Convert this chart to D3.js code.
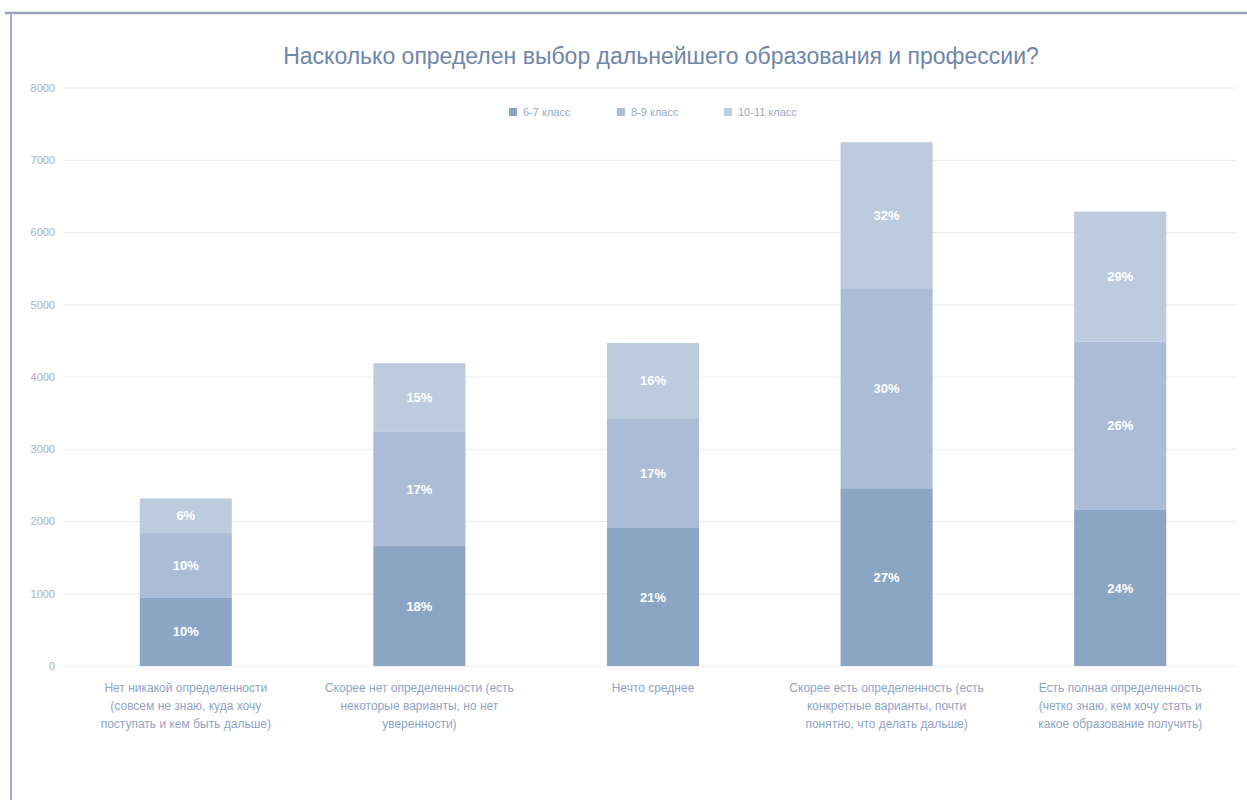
<!DOCTYPE html>
<html>
<head>
<meta charset="utf-8">
<script src="https://cdn.jsdelivr.net/npm/d3@7"></script>
<style>
  body { margin: 0; background: #fff; }
  svg { display: block; font-family: "Liberation Sans", sans-serif; }
</style>
</head>
<body>
<div id="chart"></div>
<script>
const width = 1247;
const height = 800;

const categories = [
    ["Нет никакой определенности", "(совсем не знаю, куда хочу", "поступать и кем быть дальше)"],
    ["Скорее нет определенности (есть", "некоторые варианты, но нет", "уверенности)"],
    ["Нечто среднее"],
    ["Скорее есть определенность (есть", "конкретные варианты, почти", "понятно, что делать дальше)"],
    ["Есть полная определенность", "(четко знаю, кем хочу стать  и", "какое образование получить)"]
];
const seriesNames = ["6-7 класс", "8-9 класс", "10-11 класс"];
const grade67 = [950, 1660, 1910, 2460, 2160];
const grade89 = [890, 1580, 1520, 2770, 2330];
const grade1011 = [480, 950, 1040, 2020, 1800];
const label67 = ["10%", "18%", "21%", "27%", "24%"];
const label89 = ["10%", "17%", "17%", "30%", "26%"];
const label1011 = ["6%", "15%", "16%", "32%", "29%"];
const yTicks = [0, 1000, 2000, 3000, 4000, 5000, 6000, 7000, 8000];

const colors = ["#8ba5c4", "#abbdd6", "#bccbde"];

const rows = categories.map((c, i) => ({
    key: i,
    lines: c,
    s0: grade67[i], s1: grade89[i], s2: grade1011[i],
    l0: label67[i], l1: label89[i], l2: label1011[i]
}));

const svg = d3.select("#chart").append("svg")
    .attr("width", width)
    .attr("height", height)
    .attr("viewBox", [0, 0, width, height]);

// frame
svg.append("line").attr("x1", 5).attr("x2", width).attr("y1", 13).attr("y2", 13)
    .attr("stroke", "#9ca2b5").attr("stroke-width", 2.5);
svg.append("line").attr("x1", 11).attr("x2", 11).attr("y1", 13).attr("y2", height)
    .attr("stroke", "#a6aac6").attr("stroke-width", 2);

const x = d3.scaleBand()
    .domain(rows.map(d => d.key))
    .range([69, 1237])
    .paddingInner(0.606)
    .paddingOuter(0.303);

const y = d3.scaleLinear()
    .domain([0, 8000])
    .range([666, 88]);

// grid + y labels
const grid = svg.append("g");
grid.selectAll("line")
    .data(yTicks)
    .join("line")
    .attr("x1", 63).attr("x2", 1237)
    .attr("y1", d => y(d)).attr("y2", d => y(d))
    .attr("stroke", "#ececec")
    .attr("stroke-width", 1);
grid.selectAll("text")
    .data(yTicks)
    .join("text")
    .attr("x", 55)
    .attr("y", d => y(d))
    .attr("dy", "0.35em")
    .attr("text-anchor", "end")
    .attr("fill", "#a9b0c0")
    .attr("font-size", 11)
    .text(d => d);

// stacked bars
const stack = d3.stack().keys(["s0", "s1", "s2"]);
const stacked = stack(rows);
const labelKeys = ["l0", "l1", "l2"];

const layer = svg.append("g")
    .selectAll("g")
    .data(stacked)
    .join("g")
    .attr("fill", (d, i) => colors[i]);

layer.selectAll("rect")
    .data(d => d)
    .join("rect")
    .attr("x", d => x(d.data.key))
    .attr("width", x.bandwidth())
    .attr("y", d => y(d[1]))
    .attr("height", d => y(d[0]) - y(d[1]));

layer.each(function(s, si) {
    d3.select(this).selectAll("text")
        .data(s)
        .join("text")
        .attr("x", d => x(d.data.key) + x.bandwidth() / 2)
        .attr("y", d => (y(d[0]) + y(d[1])) / 2)
        .attr("dy", "0.35em")
        .attr("text-anchor", "middle")
        .attr("fill", "#fff")
        .attr("font-weight", "bold")
        .attr("font-size", 13)
        .text(d => d.data[labelKeys[si]]);
});

// category labels
const cat = svg.append("g")
    .selectAll("text")
    .data(rows)
    .join("text")
    .attr("x", d => x(d.key) + x.bandwidth() / 2)
    .attr("y", 692)
    .attr("text-anchor", "middle")
    .attr("fill", "#90a3c6")
    .attr("font-size", 12);
cat.selectAll("tspan")
    .data(d => d.lines.map(l => ({ l, cx: x(d.key) + x.bandwidth() / 2 })))
    .join("tspan")
    .attr("x", d => d.cx)
    .attr("dy", (d, i) => i === 0 ? 0 : 18)
    .text(d => d.l);

// title
svg.append("text")
    .attr("x", 661)
    .attr("y", 64)
    .attr("text-anchor", "middle")
    .attr("fill", "#6f86ab")
    .attr("font-size", 23)
    .text("Насколько определен выбор дальнейшего образования и профессии?");

// legend
const legendX = [509, 617, 724];
const legend = svg.append("g")
    .selectAll("g")
    .data(seriesNames)
    .join("g")
    .attr("transform", (d, i) => `translate(${legendX[i]},112)`);
legend.append("rect")
    .attr("x", 0).attr("y", -4)
    .attr("width", 8).attr("height", 8)
    .attr("fill", (d, i) => colors[i]);
legend.append("text")
    .attr("x", 14)
    .attr("dy", "0.32em")
    .attr("fill", "#9aa7bf")
    .attr("font-size", 11)
    .text(d => d);
</script>
</body>
</html>
